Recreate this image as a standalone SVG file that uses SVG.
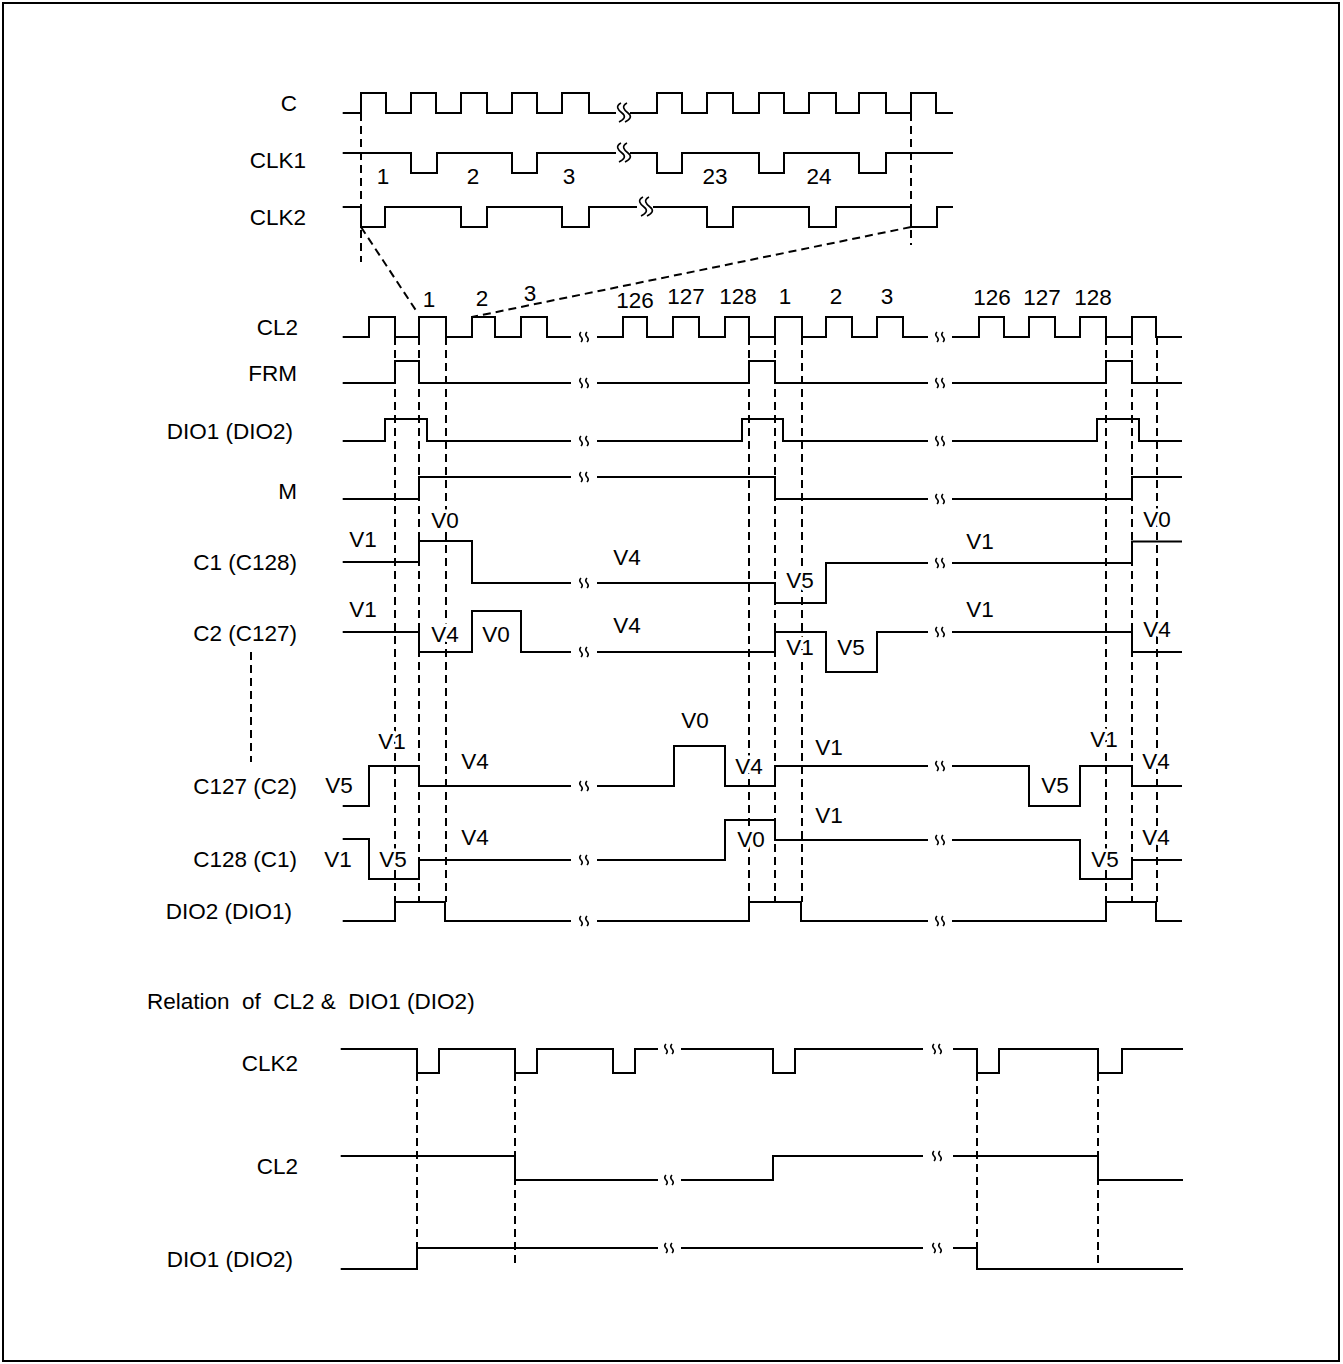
<svg xmlns="http://www.w3.org/2000/svg" xmlns:xlink="http://www.w3.org/1999/xlink" width="1343" height="1364" viewBox="0 0 1343 1364">
<style>
.sig{fill:none;stroke:#000;stroke-width:2;stroke-linejoin:miter}
.dash{fill:none;stroke:#000;stroke-width:2;stroke-dasharray:8 5}
.brk{fill:none;stroke:#000;stroke-width:1.6}
text{font-family:"Liberation Sans",Arial,sans-serif;font-size:22.5px;fill:#000}
.lbl{text-anchor:end}
.mid{text-anchor:middle}
.v{text-anchor:middle;stroke:#fff;stroke-width:7;paint-order:stroke;stroke-linejoin:round}
</style>
<defs>
<path id="bs" class="brk" d="M-3,-5 q-2.5,2.5 0,5 q2.5,2.5 0,5 M3,-5 q-2.5,2.5 0,5 q2.5,2.5 0,5"/>
<path id="bl" class="brk" d="M-1,-10 c-6,3 -3,7 1,10 c4,3 3,6 -3,9 M5,-10 c-6,3 -3,7 1,10 c4,3 3,6 -3,9"/>
</defs>
<rect x="3" y="3" width="1336" height="1358" fill="#fff" stroke="#000" stroke-width="2"/>

<g id="connectors">
<line class="dash" x1="361" y1="113" x2="361" y2="262"/>
<line class="dash" x1="911" y1="113" x2="911" y2="245"/>
<line class="dash" x1="361" y1="227" x2="417" y2="312"/>
<line class="dash" x1="911" y1="227" x2="472" y2="317"/>
<line class="dash" x1="395" y1="337" x2="395" y2="902"/>
<line class="dash" x1="419" y1="337" x2="419" y2="902"/>
<line class="dash" x1="446" y1="337" x2="446" y2="902"/>
<line class="dash" x1="749" y1="337" x2="749" y2="902"/>
<line class="dash" x1="775" y1="337" x2="775" y2="902"/>
<line class="dash" x1="802" y1="337" x2="802" y2="902"/>
<line class="dash" x1="1106" y1="337" x2="1106" y2="902"/>
<line class="dash" x1="1132" y1="337" x2="1132" y2="902"/>
<line class="dash" x1="1157" y1="337" x2="1157" y2="902"/>
<line class="dash" x1="251" y1="652" x2="251" y2="762"/>
<line class="dash" x1="417" y1="1073" x2="417" y2="1248"/>
<line class="dash" x1="515" y1="1073" x2="515" y2="1267"/>
<line class="dash" x1="977" y1="1073" x2="977" y2="1248"/>
<line class="dash" x1="1098" y1="1073" x2="1098" y2="1267"/>
</g>

<g id="labels">
<text class="lbl" x="297" y="111">C</text>
<text class="lbl" x="306" y="168">CLK1</text>
<text class="lbl" x="306" y="225">CLK2</text>
<text class="lbl" x="298" y="335">CL2</text>
<text class="lbl" x="297" y="381">FRM</text>
<text class="lbl" x="293" y="439">DIO1 (DIO2)</text>
<text class="lbl" x="297" y="499">M</text>
<text class="lbl" x="297" y="570">C1 (C128)</text>
<text class="lbl" x="297" y="641">C2 (C127)</text>
<text class="lbl" x="297" y="794">C127 (C2)</text>
<text class="lbl" x="297" y="867">C128 (C1)</text>
<text class="lbl" x="292" y="919">DIO2 (DIO1)</text>
<text x="147" y="1009" xml:space="preserve">Relation  of  CL2 &amp;  DIO1 (DIO2)</text>
<text class="lbl" x="298" y="1071">CLK2</text>
<text class="lbl" x="298" y="1174">CL2</text>
<text class="lbl" x="293" y="1267">DIO1 (DIO2)</text>
</g>

<g id="top-clocks">
<polyline id="C" class="sig" points="342.7,113 361,113 361,93 386,93 386,113 411,113 411,93 436,93 436,113 461,113 461,93 487,93 487,113 512,113 512,93 537,93 537,113 562,113 562,93 589,93 589,113 616,113"/>
<polyline class="sig" points="630,113 657,113 657,93 682,93 682,113 707,113 707,93 733,93 733,113 759,113 759,93 784,93 784,113 809,113 809,93 836,93 836,113 859,113 859,93 886,93 886,113 911,113 911,93 936,93 936,113 953,113"/>
<use href="#bl" x="622" y="113"/>
<polyline id="CLK1" class="sig" points="342.7,153 411,153 411,173 437,173 437,153 512,153 512,173 537,173 537,153 616,153"/>
<polyline class="sig" points="630,153 657,153 657,173 682,173 682,153 759,153 759,173 784,173 784,153 859,153 859,173 886,173 886,153 953,153"/>
<use href="#bl" x="622" y="153"/>
<polyline id="CLK2" class="sig" points="342.7,207 361,207 361,227 385,227 385,207 461,207 461,227 487,227 487,207 562,207 562,227 589,227 589,207 637,207"/>
<polyline class="sig" points="653,207 707,207 707,227 733,227 733,207 809,207 809,227 836,227 836,207 911,207 911,227 937,227 937,207 953,207"/>
<use href="#bl" x="644" y="207"/>
<text class="mid" x="383" y="184">1</text>
<text class="mid" x="473" y="184">2</text>
<text class="mid" x="569" y="184">3</text>
<text class="mid" x="715" y="184">23</text>
<text class="mid" x="819" y="184">24</text>
</g>

<g id="main-signals">
<polyline id="CL2" class="sig" points="342.7,337 369,337 369,317 395,317 395,337 419,337 419,317 446,317 446,337 472,337 472,317 495,317 495,337 521,337 521,317 547,317 547,337 571,337"/>
<polyline class="sig" points="597,337 623,337 623,317 647,317 647,337 673,337 673,317 699,317 699,337 725,337 725,317 749,317 749,337 775,337 775,317 802,317 802,337 826,337 826,317 852,317 852,337 877,337 877,317 903,317 903,337 928,337"/>
<polyline class="sig" points="952,337 979,337 979,317 1004,317 1004,337 1029,337 1029,317 1055,317 1055,337 1080,337 1080,317 1106,317 1106,337 1132,337 1132,317 1156,317 1156,337 1182,337"/>
<polyline id="FRM" class="sig" points="342.7,383 395,383 395,361 419,361 419,383 571,383"/>
<polyline class="sig" points="597,383 749,383 749,361 775,361 775,383 928,383"/>
<polyline class="sig" points="952,383 1106,383 1106,361 1132,361 1132,383 1182,383"/>
<polyline id="DIO1" class="sig" points="342.7,441 385,441 385,419 427,419 427,441 571,441"/>
<polyline class="sig" points="597,441 742,441 742,419 783,419 783,441 928,441"/>
<polyline class="sig" points="952,441 1097,441 1097,419 1139,419 1139,441 1182,441"/>
<polyline id="M" class="sig" points="342.7,499 419,499 419,477 571,477"/>
<polyline class="sig" points="597,477 775,477 775,499 928,499"/>
<polyline class="sig" points="952,499 1132,499 1132,477 1182,477"/>
<polyline id="C1" class="sig" points="342.7,562 419,562 419,541 472,541 472,583 571,583"/>
<polyline class="sig" points="597,583 775,583 775,603 826,603 826,563 928,563"/>
<polyline class="sig" points="952,563 1132,563 1132,541.5 1182,541.5"/>
<polyline id="C2" class="sig" points="342.7,632 419,632 419,652 472,652 472,611 521,611 521,652 571,652"/>
<polyline class="sig" points="597,652 775,652 775,632 826,632 826,672 877,672 877,632 928,632"/>
<polyline class="sig" points="952,632 1132,632 1132,652 1182,652"/>
<polyline id="C127" class="sig" points="342.7,806 369,806 369,766 419,766 419,786 571,786"/>
<polyline class="sig" points="597,786 674,786 674,746 725,746 725,786 775,786 775,766 928,766"/>
<polyline class="sig" points="952,766 1029,766 1029,806 1080,806 1080,766 1132,766 1132,786 1182,786"/>
<polyline id="C128" class="sig" points="342.7,839 369,839 369,879 419,879 419,860 571,860"/>
<polyline class="sig" points="597,860 725,860 725,820 775,820 775,840 928,840"/>
<polyline class="sig" points="952,840 1080,840 1080,879 1132,879 1132,860 1182,860"/>
<polyline id="DIO2" class="sig" points="342.7,921 395,921 395,902 445,902 445,921 571,921"/>
<polyline class="sig" points="597,921 749,921 749,902 801,902 801,921 928,921"/>
<polyline class="sig" points="952,921 1106,921 1106,902 1156,902 1156,921 1182,921"/>
<use href="#bs" x="584" y="337"/><use href="#bs" x="940" y="337"/>
<use href="#bs" x="584" y="383"/><use href="#bs" x="940" y="383"/>
<use href="#bs" x="584" y="441"/><use href="#bs" x="940" y="441"/>
<use href="#bs" x="584" y="477"/><use href="#bs" x="940" y="499"/>
<use href="#bs" x="584" y="583"/><use href="#bs" x="940" y="563"/>
<use href="#bs" x="584" y="652"/><use href="#bs" x="940" y="632"/>
<use href="#bs" x="584" y="786"/><use href="#bs" x="940" y="766"/>
<use href="#bs" x="584" y="860"/><use href="#bs" x="940" y="840"/>
<use href="#bs" x="584" y="921"/><use href="#bs" x="940" y="921"/>
</g>

<g id="main-texts">
<text class="mid" x="429" y="307">1</text>
<text class="mid" x="482" y="306">2</text>
<text class="mid" x="530" y="301">3</text>
<text class="mid" x="635" y="308">126</text>
<text class="mid" x="686" y="304">127</text>
<text class="mid" x="738" y="304">128</text>
<text class="mid" x="785" y="304">1</text>
<text class="mid" x="836" y="304">2</text>
<text class="mid" x="887" y="304">3</text>
<text class="mid" x="992" y="305">126</text>
<text class="mid" x="1042" y="305">127</text>
<text class="mid" x="1093" y="305">128</text>
<text class="v" x="363" y="547">V1</text>
<text class="v" x="445" y="528">V0</text>
<text class="v" x="627" y="565">V4</text>
<text class="v" x="800" y="588">V5</text>
<text class="v" x="980" y="549">V1</text>
<text class="v" x="1157" y="527">V0</text>
<text class="v" x="363" y="617">V1</text>
<text class="v" x="445" y="642">V4</text>
<text class="v" x="496" y="642">V0</text>
<text class="v" x="627" y="633">V4</text>
<text class="v" x="800" y="655">V1</text>
<text class="v" x="851" y="655">V5</text>
<text class="v" x="980" y="617">V1</text>
<text class="v" x="1157" y="637">V4</text>
<text class="v" x="339" y="793">V5</text>
<text class="v" x="392" y="749">V1</text>
<text class="v" x="475" y="769">V4</text>
<text class="v" x="695" y="728">V0</text>
<text class="v" x="749" y="774">V4</text>
<text class="v" x="829" y="755">V1</text>
<text class="v" x="1055" y="793">V5</text>
<text class="v" x="1104" y="747">V1</text>
<text class="v" x="1156" y="769">V4</text>
<text class="v" x="338" y="867">V1</text>
<text class="v" x="393" y="867">V5</text>
<text class="v" x="475" y="845">V4</text>
<text class="v" x="751" y="847">V0</text>
<text class="v" x="829" y="823">V1</text>
<text class="v" x="1105" y="867">V5</text>
<text class="v" x="1156" y="845">V4</text>
</g>

<g id="bottom-signals">
<polyline class="sig" points="340.7,1049 417,1049 417,1073 439,1073 439,1049 515,1049 515,1073 537,1073 537,1049 613,1049 613,1073 635,1073 635,1049 658,1049"/>
<polyline class="sig" points="681,1049 773,1049 773,1073 795,1073 795,1049 923,1049"/>
<polyline class="sig" points="953,1049 977,1049 977,1073 999,1073 999,1049 1098,1049 1098,1073 1122,1073 1122,1049 1183,1049"/>
<polyline class="sig" points="340.7,1156 515,1156 515,1180 658,1180"/>
<polyline class="sig" points="681,1180 773,1180 773,1156 923,1156"/>
<polyline class="sig" points="953,1156 1098,1156 1098,1180 1183,1180"/>
<polyline class="sig" points="340.7,1269 417,1269 417,1248 658,1248"/>
<polyline class="sig" points="681,1248 923,1248"/>
<polyline class="sig" points="953,1248 977,1248 977,1269 1183,1269"/>
<use href="#bs" x="669" y="1049"/><use href="#bs" x="937" y="1049"/>
<use href="#bs" x="669" y="1180"/><use href="#bs" x="937" y="1156"/>
<use href="#bs" x="669" y="1248"/><use href="#bs" x="937" y="1248"/>
</g>
</svg>
